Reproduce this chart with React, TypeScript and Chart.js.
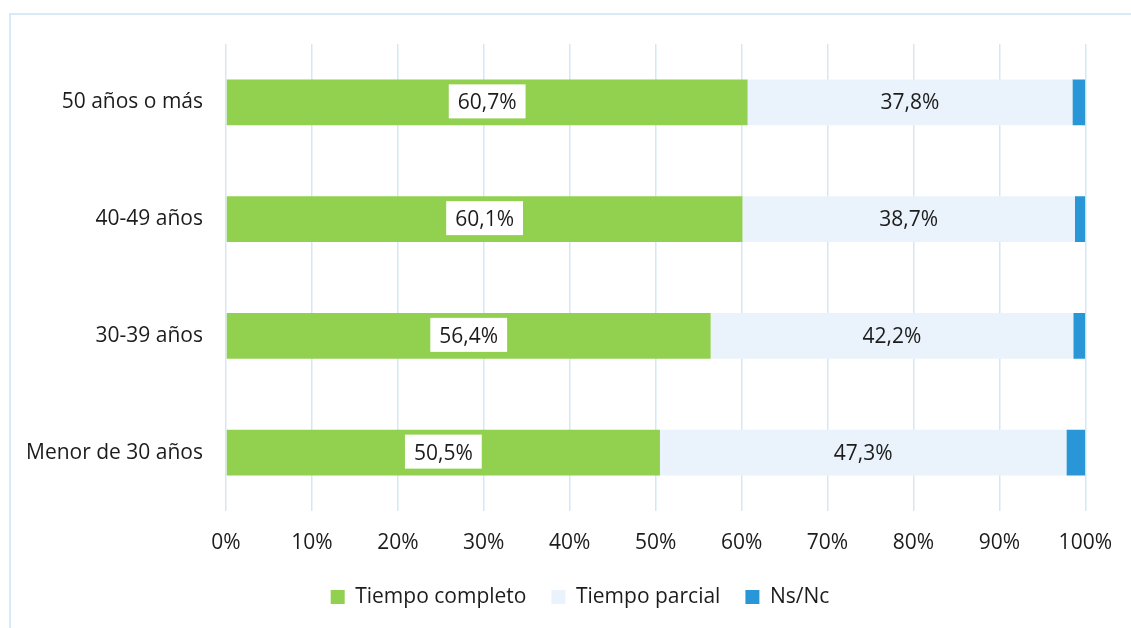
import React, { useEffect, useRef } from "react";
import { Chart, registerables } from "chart.js";

Chart.register(...registerables);

const categories = ["50 años o más", "40-49 años", "30-39 años", "Menor de 30 años"];
const tiempoCompleto = [60.7, 60.1, 56.4, 50.5];
const tiempoParcial = [37.8, 38.7, 42.2, 47.3];
const nsNc = [1.5, 1.2, 1.4, 2.2];
const seriesNames = ["Tiempo completo", "Tiempo parcial", "Ns/Nc"];
const xTicks = [0, 10, 20, 30, 40, 50, 60, 70, 80, 90, 100];

const FONT = "'Open Sans', sans-serif";
const FS = 21;
const LP = 25;
const TEXT = "#1c1c1c";

const fmt = (v: number) => v.toFixed(1).replace(".", ",") + "%";

const labelPlugin = {
  id: "segLabels",
  afterLayout(chart: any) {
    const lg = chart.legend;
    if (lg) {
      const h = lg.bottom - lg.top;
      lg.top = 597 - LP - FS / 2;
      lg.bottom = lg.top + h;
      lg.left = 80;
      lg.right = 1080;
      lg.width = 1000;
    }
  },
  afterDatasetsDraw(chart: any) {
    const ctx = chart.ctx;
    ctx.save();
    ctx.font = `${FS}px ${FONT}`;
    ctx.textAlign = "center";
    ctx.textBaseline = "middle";
    [0, 1].forEach((di) => {
      const meta = chart.getDatasetMeta(di);
      const data = chart.data.datasets[di].data as number[];
      meta.data.forEach((el: any, i: number) => {
        const cx = (el.x + el.base) / 2;
        const cy = el.y;
        const txt = fmt(data[i]);
        if (di === 0) {
          const w = ctx.measureText(txt).width + 18;
          const h = 34;
          ctx.fillStyle = "#ffffff";
          ctx.fillRect(cx - w / 2, cy - h / 2 - 1, w, h);
        }
        ctx.fillStyle = TEXT;
        ctx.fillText(txt, cx, cy + 1);
      });
    });
    ctx.restore();
  },
};

export default function App() {
  const ref = useRef<HTMLCanvasElement>(null);
  useEffect(() => {
    if (!ref.current) return;
    const chart = new Chart(ref.current, {
      type: "bar",
      data: {
        labels: categories,
        datasets: [
          { label: seriesNames[0], data: tiempoCompleto, backgroundColor: "#92D050" },
          { label: seriesNames[1], data: tiempoParcial, backgroundColor: "#EAF3FB" },
          { label: seriesNames[2], data: nsNc, backgroundColor: "#2997D7" },
        ],
      },
      options: {
        indexAxis: "y",
        responsive: false,
        animation: false,
        layout: { padding: { left: 20, right: 45, top: 44, bottom: 16 } },
        datasets: {
          bar: { categoryPercentage: 1, barPercentage: 0.39, borderWidth: 0 },
        },
        scales: {
          x: {
            stacked: true,
            min: 0,
            max: 100,
            afterFit: (s: any) => {
              s.height = 45;
            },
            afterBuildTicks: (s: any) => {
              s.ticks = xTicks.map((v) => ({ value: v }));
            },
            ticks: {
              callback: (v: any) => v + "%",
              color: TEXT,
              font: { family: FONT, size: FS },
              padding: 19,
              maxRotation: 0,
            },
            grid: { color: "#D2E8F6", lineWidth: 1.5, drawTicks: false },
            border: { display: false },
          },
          y: {
            stacked: true,
            afterFit: (s: any) => {
              s.width = 206;
            },
            ticks: {
              color: TEXT,
              font: { family: FONT, size: FS },
              padding: 23,
            },
            grid: { display: false, drawTicks: false },
            border: { display: false },
          },
        },
        plugins: {
          tooltip: { enabled: false },
          legend: {
            position: "bottom",
            labels: {
              boxWidth: 14,
              boxHeight: 14,
              padding: LP,
              color: TEXT,
              font: { family: FONT, size: FS },
            },
          },
        },
      },
      plugins: [labelPlugin],
    });
    return () => chart.destroy();
  }, []);

  return (
    <div
      style={{
        position: "absolute",
        left: 0,
        top: 0,
        width: 1131,
        height: 628,
        overflow: "hidden",
        background: "#ffffff",
      }}
    >
      <div
        style={{
          position: "absolute",
          left: 9,
          top: 13,
          width: 1300,
          height: 800,
          border: "2px solid #D6EAF8",
          boxSizing: "border-box",
        }}
      />
      <canvas
        ref={ref}
        width={1131}
        height={628}
        style={{ position: "absolute", left: 0, top: 0, width: 1131, height: 628 }}
      />
    </div>
  );
}
